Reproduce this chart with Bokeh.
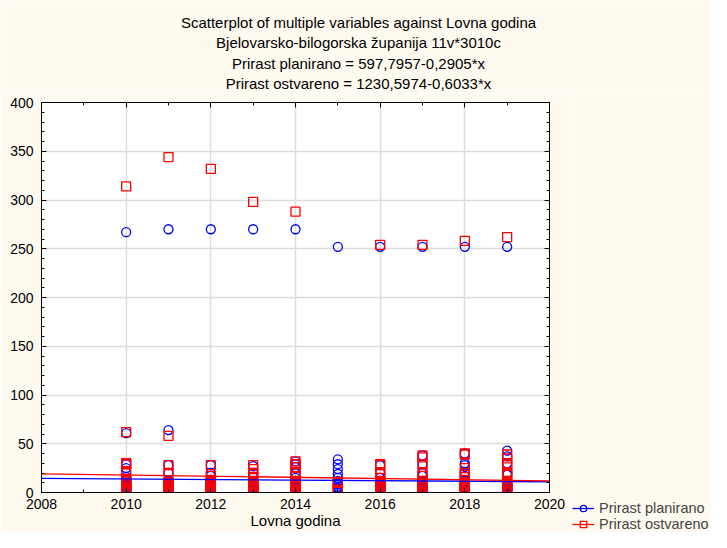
import numpy as np
from bokeh.plotting import figure
from bokeh.layouts import column, row
from bokeh.models import (Range1d, LinearAxis, SingleIntervalTicker, Legend,
                          LegendItem, ColumnDataSource)
from bokeh.core.properties import value
from bokeh.embed import file_html
from bokeh.resources import INLINE

nan = float("nan")

# ---- data -------------------------------------------------------------
title_lines = [
    "Scatterplot of multiple variables against Lovna godina",
    "Bjelovarsko-bilogorska županija 11v*3010c",
    "Prirast planirano = 597,7957-0,2905*x",
    "Prirast ostvareno = 1230,5974-0,6033*x",
]
x_label = "Lovna godina"
series_names = ["Prirast planirano", "Prirast ostvareno"]

godina = [
    2010, 2010, 2010, 2010, 2010, 2010, 2010, 2010, 2010, 2010, 2010, 2010, 2010, 2010, 2010, 2010,
    2011, 2011, 2011, 2011, 2011, 2011, 2011, 2011, 2011, 2011, 2011, 2011, 2011, 2011, 2011, 2011,
    2012, 2012, 2012, 2012, 2012, 2012, 2012, 2012, 2012, 2012, 2012, 2012, 2012, 2012, 2012, 2012,
    2013, 2013, 2013, 2013, 2013, 2013, 2013, 2013, 2013, 2013, 2013, 2013, 2013, 2013, 2013, 2013,
    2014, 2014, 2014, 2014, 2014, 2014, 2014, 2014, 2014, 2014, 2014, 2014, 2014, 2014, 2014, 2014,
    2015, 2015, 2015, 2015, 2015, 2015, 2015, 2015, 2015, 2015, 2015, 2015, 2015, 2015, 2015, 2015,
    2016, 2016, 2016, 2016, 2016, 2016, 2016, 2016, 2016, 2016, 2016, 2016, 2016, 2016, 2016, 2016,
    2017, 2017, 2017, 2017, 2017, 2017, 2017, 2017, 2017, 2017, 2017, 2017, 2017, 2017, 2017, 2017,
    2018, 2018, 2018, 2018, 2018, 2018, 2018, 2018, 2018, 2018, 2018, 2018, 2018, 2018, 2018, 2018,
    2019, 2019, 2019, 2019, 2019, 2019, 2019, 2019, 2019, 2019, 2019, 2019, 2019, 2019, 2019, 2019,
]

prirast_planirano = [
    267, 61, 29, 25, 21, 16, 12, 10, 8, 7, 6, 5, 4, 3, 2, 1,
    270, 64, 28, 20, 12, 10, 9, 8, 7, 6, 5, 4, 3, 2, 1, 0,
    270, 28, 20, 17, 12, 10, 9, 8, 7, 6, 5, 4, 3, 2, 1, 0,
    270, 27, 20, 16, 12, 10, 9, 8, 7, 6, 5, 4, 3, 2, 1, 0,
    270, 32, 29, 26, 20, 15, 12, 10, 8, 7, 6, 5, 4, 3, 2, 1,
    252, 34, 29, 24, 19, 15, 12, 10, 9, 8, 6, 5, 4, 3, 2, 0,
    252, 28, 20, 15, 12, 10, 9, 8, 7, 6, 5, 4, 3, 2, 1, 0,
    252, 38, 29, 20, 17, 12, 10, 9, 8, 7, 6, 5, 4, 3, 2, 0,
    252, 40, 30, 28, 20, 17, 12, 10, 9, 8, 7, 6, 4, 3, 2, 0,
    252, 43, 37, 30, 20, 18, 12, 10, 9, 8, 7, 6, 4, 3, 2, 0,
]

prirast_ostvareno = [
    314, 62, 30, 29, 22, 14, 12, 10, 9, 8, 6, 5, 4, 3, 2, 0,
    344, 58, 28, 20, 10, 9, 8, 7, 6, 5, 4, 3, 3, 2, 1, 0,
    332, 28, 17, 13, 11, 10, 9, 8, 7, 6, 5, 4, 3, 2, 1, 0,
    298, 28, 24, 20, 16, 12, 10, 9, 8, 7, 6, 5, 4, 3, 1, 0,
    288, 32, 29, 26, 21, 16, 12, 10, 9, 8, 7, 6, 5, 3, 2, 0,
    nan, nan, nan, nan, nan, nan, 11, 10, nan, nan, nan, nan, 3, 2, nan, nan,
    254, 29, 28, 21, 20, 15, 12, 10, 9, 8, 7, 6, 5, 4, 2, 0,
    254, 38, 36, 29, 21, 17, 12, 10, 9, 8, 7, 6, 5, 3, 1, 0,
    258, 40, 39, 25, 20, 18, 13, 10, 9, 8, 7, 6, 5, 3, 1, 0,
    262, 39, 35, 30, 28, 21, 20, 18, 12, 10, 8, 6, 5, 3, 1, 0,
]

# regression coefficients (intercept, slope) from the chart subtitle
koef_planirano = (597.7957, -0.2905)
koef_ostvareno = (1230.5974, -0.6033)

x_min, x_max = 2008, 2020
y_min, y_max = 0, 400

# ---- styling / layout -------------------------------------------------
FONT = "Liberation Sans"
BG = "#FFFAF0"
BLUE = "#0000FF"
RED = "#FF0000"
TOTAL_W = 711
TITLE_H = 93
MAIN_W, MAIN_H = 570, 439
LEG_W = TOTAL_W - MAIN_W
title_x = 358                    # horizontal centre of the title block (px)
title_y = [22, 42, 63, 83]       # line centres (px from top of title strip)

# ---- title strip ------------------------------------------------------
pt = figure(width=TOTAL_W, height=TITLE_H, x_range=Range1d(0, TOTAL_W),
            y_range=Range1d(TITLE_H, 0), x_axis_type=None, y_axis_type=None,
            output_backend="svg", toolbar_location=None,
            min_border=0, outline_line_color=None, frame_align=False,
            background_fill_color=BG, border_fill_color=BG)
pt.title.visible = False
pt.text(x=[title_x] * len(title_lines), y=title_y, text=title_lines,
        text_align="center", text_baseline="middle",
        text_font=value(FONT), text_font_size="15px", text_color="black")

# ---- main plot --------------------------------------------------------
source = ColumnDataSource(dict(
    godina=np.array(godina, dtype=float),
    plan=np.array(prirast_planirano, dtype=float),
    ostv=np.array(prirast_ostvareno, dtype=float),
))

p = figure(width=MAIN_W, height=MAIN_H,
           x_range=Range1d(x_min, x_max), y_range=Range1d(y_min, y_max),
           output_backend="svg", toolbar_location=None,
           min_border_left=41, min_border_right=21,
           min_border_top=9, min_border_bottom=40, frame_align=False,
           background_fill_color="white", border_fill_color=BG,
           outline_line_color="black")
p.title.visible = False

bottom_axis = p.below[0]
left_axis = p.left[0]
bottom_axis.ticker = SingleIntervalTicker(interval=2, num_minor_ticks=2)
left_axis.ticker = SingleIntervalTicker(interval=50, num_minor_ticks=5)

top_axis = LinearAxis(ticker=SingleIntervalTicker(interval=2, num_minor_ticks=2))
right_axis = LinearAxis(ticker=SingleIntervalTicker(interval=50, num_minor_ticks=5))
p.add_layout(top_axis, "above")
p.add_layout(right_axis, "right")

for ax in [bottom_axis, left_axis, top_axis, right_axis]:
    ax.axis_line_color = "black"
    ax.major_tick_line_color = "black"
    ax.minor_tick_line_color = "black"
    ax.major_tick_in = 5
    ax.major_tick_out = 0
    ax.minor_tick_in = 3
    ax.minor_tick_out = 0
    ax.major_label_text_font = FONT
    ax.major_label_text_font_size = "14px"
    ax.major_label_text_color = "black"

for ax in [top_axis, right_axis]:
    ax.major_label_text_color = None
    ax.major_label_text_font_size = "1px"
    ax.major_label_standoff = 0

bottom_axis.major_label_standoff = 6
bottom_axis.axis_label = x_label
bottom_axis.axis_label_standoff = 0
bottom_axis.axis_label_text_font = FONT
bottom_axis.axis_label_text_font_size = "15px"
bottom_axis.axis_label_text_font_style = "normal"
bottom_axis.axis_label_text_color = "black"
left_axis.major_label_standoff = 8

p.xgrid.grid_line_color = "#DDDDDD"
p.ygrid.grid_line_color = "#DDDDDD"
p.xgrid.grid_line_width = 1.5
p.ygrid.grid_line_width = 1.5

marker_b = dict(marker="circle", size=9, fill_color=None, line_color=BLUE, line_width=1.3)
marker_r = dict(marker="square", size=9, fill_color=None, line_color=RED, line_width=1.3)

p.scatter("godina", "plan", source=source, **marker_b)
p.scatter("godina", "ostv", source=source, **marker_r)

xs = [x_min, x_max]
ys_b = [koef_planirano[0] + koef_planirano[1] * x for x in xs]
ys_r = [koef_ostvareno[0] + koef_ostvareno[1] * x for x in xs]
p.line(xs, ys_b, line_color=BLUE, line_width=1.3)
p.line(xs, ys_r, line_color=RED, line_width=1.3)

# ---- legend strip (its own renderers stay outside its visible range) ----
pl = figure(width=LEG_W, height=MAIN_H, x_range=Range1d(0, 1), y_range=Range1d(0, 1),
            x_axis_type=None, y_axis_type=None,
            output_backend="svg", toolbar_location=None,
            min_border=0, outline_line_color=None, frame_align=False,
            background_fill_color=BG, border_fill_color=BG)
pl.title.visible = False
lb = pl.line(xs, ys_b, line_color=BLUE, line_width=1.3)
sb = pl.scatter("godina", "plan", source=source, **marker_b)
lr = pl.line(xs, ys_r, line_color=RED, line_width=1.3)
sr = pl.scatter("godina", "ostv", source=source, **marker_r)
legend = Legend(items=[
    LegendItem(label=series_names[0], renderers=[lb, sb]),
    LegendItem(label=series_names[1], renderers=[lr, sr]),
], location=(2, 0), orientation="vertical",
    background_fill_alpha=0, border_line_color=None,
    label_text_font=FONT, label_text_font_size="14.5px",
    glyph_width=22, glyph_height=16, label_standoff=5,
    spacing=0, padding=0, margin=0, label_height=16)
pl.add_layout(legend)

layout = column(pt, row(p, pl, spacing=0), spacing=0)
open("out.html", "w").write(file_html(layout, INLINE))
